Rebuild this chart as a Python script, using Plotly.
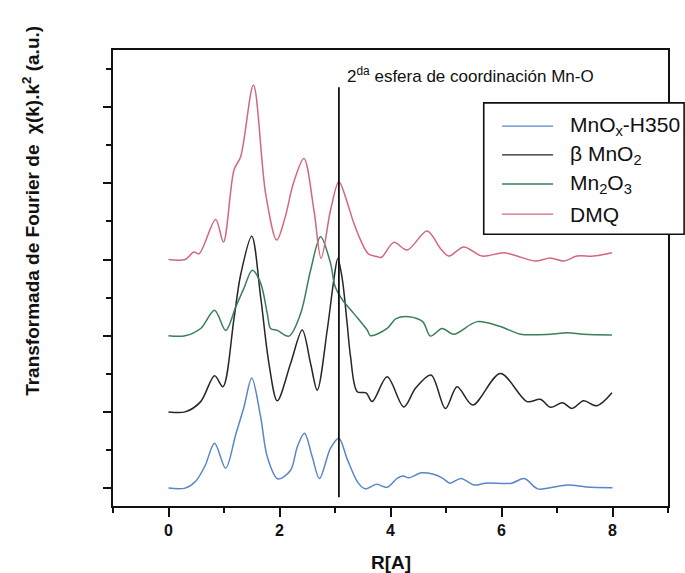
import plotly.graph_objects as go

# Fourier-transformed EXAFS magnitude |chi(R)| (k^2 weighted), stacked with vertical offsets
r_h350 = [0, 0.3, 0.49, 0.66, 0.83, 1.03, 1.21, 1.36, 1.50, 1.66, 1.78, 1.97, 2.2, 2.32, 2.45,
          2.59, 2.72, 2.92, 3.07, 3.22, 3.42, 3.55, 3.75, 3.94, 4.13, 4.23, 4.33, 4.56, 4.76,
          4.93, 5.07, 5.27, 5.51, 5.71, 6.18, 6.41, 6.65, 6.85, 7.19, 7.53, 8.0]
ft_h350 = [0, 0, 0.18, 0.59, 1.18, 0.52, 1.4, 2.13, 2.89, 1.87, 0.82, 0.24, 0.47, 1.08, 1.44,
           0.82, 0.25, 1.05, 1.31, 0.76, 0.13, -0.02, 0.1, 0.02, 0.27, 0.32, 0.27, 0.40, 0.37,
           0.27, 0.13, 0.25, 0.08, 0.13, 0.13, 0.25, -0.02, 0, 0.08, 0.03, 0.01]

r_bmno2 = [0, 0.3, 0.58, 0.83, 0.98, 1.18, 1.30, 1.50, 1.66, 1.81, 1.96, 2.2, 2.41, 2.56, 2.68,
           2.86, 2.98, 3.05, 3.13, 3.22, 3.28, 3.40, 3.56, 3.67, 3.94, 4.24, 4.45, 4.73, 4.99,
           5.2, 5.48, 5.98, 6.46, 6.7, 6.88, 7.1, 7.27, 7.48, 7.72, 7.99]
ft_bmno2 = [0, 0, 0.27, 0.95, 0.66, 2.45, 3.6, 4.61, 3.02, 1.27, 0.29, 1.27, 2.15, 1.27, 0.57,
            2.15, 3.48, 4.03, 3.5, 2.3, 1.45, 0.53, 0.5, 0.27, 0.92, 0.13, 0.62, 0.97, 0.09,
            0.66, 0.18, 1.01, 0.27, 0.33, 0.12, 0.24, 0.09, 0.29, 0.16, 0.5]

r_mn2o3 = [0, 0.3, 0.58, 0.83, 1.03, 1.21, 1.36, 1.51, 1.66, 1.78, 1.84, 1.96, 2.17, 2.38, 2.56,
           2.74, 2.92, 3.0, 3.13, 3.34, 3.58, 3.64, 3.94, 4.1, 4.33, 4.58, 4.72, 4.93, 5.14,
           5.56, 5.98, 6.34, 6.88, 7.18, 7.48, 7.99]
ft_mn2o3 = [0, 0, 0.19, 0.67, 0.14, 0.75, 1.25, 1.72, 1.38, 0.58, 0.19, 0.14, -0.01, 0.58, 1.72,
            2.6, 1.9, 1.3, 0.95, 0.58, 0.15, 0.0, 0.19, 0.45, 0.5, 0.37, -0.01, 0.19, 0.04,
            0.37, 0.24, 0.04, 0.04, 0.08, 0.04, 0.02]

r_dmq = [0, 0.3, 0.46, 0.55, 0.85, 0.99, 1.18, 1.30, 1.53, 1.75, 1.95, 2.1, 2.25, 2.44, 2.62,
         2.75, 2.92, 3.07, 3.22, 3.34, 3.48, 3.6, 3.75, 3.84, 4.06, 4.3, 4.66, 4.9, 5.05, 5.32,
         5.65, 6.04, 6.28, 6.61, 6.88, 7.12, 7.36, 7.66, 7.99]
ft_dmq = [0, 0, 0.2, 0.15, 1.05, 0.46, 2.35, 2.7, 4.58, 1.73, 0.51, 1.1, 2.0, 2.65, 1.3,
          0.03, 1.3, 2.04, 1.5, 0.95, 0.45, 0.15, 0.08, 0.06, 0.45, 0.25, 0.75, 0.29, 0.09, 0.33,
          0.09, 0.18, 0.09, -0.04, 0.04, -0.04, 0.09, 0.09, 0.18]

series_names = ["MnO<sub>x</sub>-H350", "β MnO<sub>2</sub>", "Mn<sub>2</sub>O<sub>3</sub>", "DMQ"]
series_r = [r_h350, r_bmno2, r_mn2o3, r_dmq]
series_ft = [ft_h350, ft_bmno2, ft_mn2o3, ft_dmq]
offsets = [0, 2, 4, 6]
colors = ["#5a85c8", "#262626", "#3b7f58", "#d3687c"]

# second coordination sphere Mn-O marker
r_shell = 3.07
shell_span = [-0.24, 10.52]
shell_label = "2<sup>da</sup> esfera de coordinación Mn-O"

x_title = "<b>R[A]</b>"
y_title = "<b>Transformada de Fourier de \u00a0χ(k).k<sup>2</sup> (a.u.)</b>"

FONT = "Liberation Sans, Arial, Helvetica, sans-serif"

fig = go.Figure()
for r, ft, off, col, name in zip(series_r, series_ft, offsets, colors, series_names):
    fig.add_trace(go.Scatter(
        x=r, y=[v + off for v in ft], mode="lines", name=name,
        line=dict(color=col, width=1.5, shape="spline", smoothing=0.9),
        showlegend=False,
    ))

fig.add_trace(go.Scatter(
    x=[r_shell, r_shell], y=shell_span, mode="lines",
    line=dict(color="#111111", width=1.8), showlegend=False,
))

fig.update_layout(
    width=685, height=573,
    margin=dict(l=113, r=17, t=50, b=67),
    paper_bgcolor="white", plot_bgcolor="white",
    font=dict(family=FONT, color="#111111"),
)

fig.update_xaxes(
    range=[-1, 9], tick0=0, dtick=2, automargin=False,
    ticks="outside", ticklen=9, tickwidth=2, tickcolor="#111111",
    showline=True, linewidth=2, linecolor="#111111", mirror=True,
    showgrid=False, zeroline=False,
    tickfont=dict(size=16, family=FONT, weight="bold", color="#111111"),
    minor=dict(dtick=1, ticks="outside", ticklen=5, tickwidth=2, tickcolor="#111111", showgrid=False),
)
fig.update_yaxes(
    range=[-0.47, 11.5], tick0=0, dtick=2, automargin=False,
    ticks="outside", ticklen=8, tickwidth=2, tickcolor="#111111",
    showline=True, linewidth=2, linecolor="#111111", mirror=True,
    showgrid=False, zeroline=False, showticklabels=False,
    minor=dict(dtick=1, ticks="outside", ticklen=5, tickwidth=2, tickcolor="#111111", showgrid=False),
)

annotations = [
    dict(text=y_title, xref="paper", yref="paper", x=-0.148, y=0.647, textangle=-90,
         showarrow=False, font=dict(size=19, family=FONT, color="#111111"),
         xanchor="center", yanchor="middle"),
    dict(text=x_title, xref="paper", yref="paper", x=0.5, y=-0.123,
         showarrow=False, font=dict(size=19, family=FONT, color="#111111"),
         xanchor="center", yanchor="middle"),
    dict(text=shell_label, xref="paper", yref="paper", x=0.418, y=0.945,
         showarrow=False, xanchor="left", yanchor="middle",
         font=dict(size=17, family=FONT, color="#111111")),
]

# legend box drawn with shapes so the sample lines can be longer
shapes = [dict(type="rect", xref="paper", yref="paper", x0=0.668, x1=1.029, y0=0.596, y1=0.884,
               line=dict(color="#111111", width=1.6), fillcolor="white", layer="above")]
legend_y = [0.833, 0.770, 0.706, 0.640]
for ly, col, name in zip(legend_y, colors, series_names):
    shapes.append(dict(type="line", xref="paper", yref="paper", x0=0.701, x1=0.793, y0=ly, y1=ly,
                       line=dict(color=col, width=1.4), layer="above"))
    annotations.append(dict(text=name, xref="paper", yref="paper", x=0.82, y=ly,
                            showarrow=False, xanchor="left", yanchor="middle",
                            font=dict(size=21, family=FONT, color="#111111")))

fig.update_layout(shapes=shapes, annotations=annotations)

fig.write_html("out.html")
